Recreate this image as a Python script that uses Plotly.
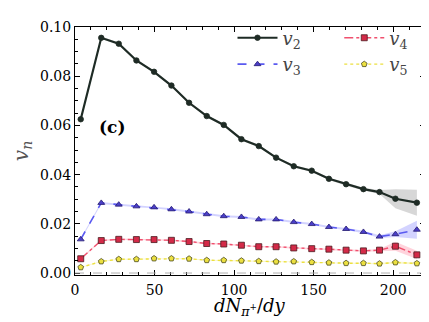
import plotly.graph_objects as go

# dN/dy bins
x = [3.6, 16.5, 27.5, 38.6, 49.7, 60.6, 71.7, 82.8, 93.5, 104.6,
     115.5, 126.4, 137.5, 148.8, 159.6, 170.4, 181.3, 191.4, 201.4, 214.9]

v2 = [0.0625, 0.0956, 0.0932, 0.0864, 0.0818, 0.0762, 0.0692, 0.0638, 0.0602, 0.0544,
      0.0516, 0.0469, 0.0434, 0.0416, 0.0383, 0.0361, 0.0341, 0.0329, 0.0302, 0.0286]
v3 = [0.0137, 0.0285, 0.0278, 0.0271, 0.0267, 0.0259, 0.0250, 0.0239, 0.0231, 0.0228,
      0.0218, 0.0218, 0.0207, 0.0199, 0.0187, 0.0179, 0.0167, 0.0148, 0.0158, 0.0176]
v4 = [0.0058, 0.0132, 0.0137, 0.0136, 0.0136, 0.0133, 0.0128, 0.0120, 0.0118, 0.0113,
      0.0107, 0.0107, 0.0102, 0.0099, 0.0097, 0.0093, 0.0090, 0.0093, 0.0109, 0.0074]
v5 = [0.0023, 0.0047, 0.0056, 0.0056, 0.0059, 0.0059, 0.0058, 0.0052, 0.0052, 0.0050,
      0.0048, 0.0046, 0.0047, 0.0044, 0.0042, 0.0040, 0.0040, 0.0038, 0.0043, 0.0039]

# statistical uncertainty (half width of shaded band)
e2 = [0.0005, 0.0005, 0.0005, 0.0005, 0.0005, 0.0005, 0.0005, 0.0005, 0.0005, 0.0005,
      0.0005, 0.0005, 0.0005, 0.0005, 0.0005, 0.0006, 0.0006, 0.0008, 0.0039, 0.0053]
e3 = [0.0004, 0.0004, 0.0004, 0.0004, 0.0004, 0.0004, 0.0004, 0.0004, 0.0004, 0.0004,
      0.0004, 0.0004, 0.0004, 0.0004, 0.0004, 0.0004, 0.0005, 0.0006, 0.0012, 0.0037]
e4 = [0.0003, 0.0003, 0.0003, 0.0003, 0.0003, 0.0003, 0.0003, 0.0003, 0.0003, 0.0003,
      0.0003, 0.0003, 0.0003, 0.0003, 0.0003, 0.0003, 0.0004, 0.0005, 0.0018, 0.0017]
e5 = [0.0002, 0.0002, 0.0002, 0.0002, 0.0002, 0.0002, 0.0002, 0.0002, 0.0002, 0.0002,
      0.0002, 0.0002, 0.0002, 0.0002, 0.0002, 0.0002, 0.0002, 0.0003, 0.0004, 0.0004]

SERIF = "DejaVu Serif"

series = [
    # name, y, err, line color, dash, width, symbol, marker fill, marker edge, band, legend, rank
    ("<i>v</i><sub>2</sub>", v2, e2, "#1e2b25", "solid", 2.2, "circle", "#1e2b25", "#1e2b25",
     "rgba(140,140,140,0.35)", "legend", 1),
    ("<i>v</i><sub>3</sub>", v3, e3, "#5a5af0", "dash", 1.6, "triangle-up", "#4b3fc8", "#241a70",
     "rgba(110,110,255,0.30)", "legend", 2),
    ("<i>v</i><sub>4</sub>", v4, e4, "#f0506e", "dashdot", 1.4, "square", "#d42a48", "#4a1a20",
     "rgba(255,110,140,0.30)", "legend2", 1),
    ("<i>v</i><sub>5</sub>", v5, e5, "#ece040", "dot", 1.4, "pentagon", "#ece040", "#4a4a20",
     "rgba(240,230,90,0.30)", "legend2", 2),
]

fig = go.Figure()

for name, y, err, lc, dash, lw, sym, mfill, medge, band, leg, rank in series:
    upper = [a + b for a, b in zip(y, err)]
    lower = [a - b for a, b in zip(y, err)]
    fig.add_trace(go.Scatter(
        x=x + x[::-1], y=upper + lower[::-1],
        fill="toself", fillcolor=band, line=dict(width=0),
        mode="lines", showlegend=False, hoverinfo="skip",
    ))
    fig.add_trace(go.Scatter(
        x=x, y=y, mode="lines+markers", name=name,
        line=dict(color=lc, width=lw, dash=dash),
        marker=dict(symbol=sym, size=6 if sym != "circle" else 5.5,
                    color=mfill, line=dict(color=medge, width=0.8)),
        legend=leg, legendrank=rank,
    ))

fig.add_hline(y=0, line=dict(color="#b0b0b0", width=1, dash="dash"))

fig.add_annotation(x=23, y=0.0595, text="<b>(c)</b>", showarrow=False,
                   font=dict(family=SERIF, size=17, color="black"))

# x-axis title placed as annotation for tighter control
fig.add_annotation(xref="paper", yref="paper", x=0.5, y=-0.13, yanchor="middle",
                   text="<i>dN</i><sub><i>π</i><sup>+</sup></sub>/<i>dy</i>",
                   showarrow=False, font=dict(family=SERIF, size=18, color="black"))

axis_common = dict(
    showline=True, linecolor="black", linewidth=1, mirror="allticks",
    ticks="inside", ticklen=5, tickcolor="black", showgrid=False, zeroline=False,
    tickfont=dict(family=SERIF, size=14, color="black"),
)

fig.update_xaxes(
    range=[0, 220], tickvals=[0, 50, 100, 150, 200], ticklabelstandoff=2,
    minor=dict(dtick=10, tick0=0, ticks="inside", ticklen=3, tickcolor="black", showgrid=False),
    **axis_common,
)
fig.update_yaxes(
    range=[-0.0008, 0.1], tickvals=[0.0, 0.02, 0.04, 0.06, 0.08, 0.10],
    ticktext=["0.00", "0.02", "0.04", "0.06", "0.08", "0.10"],
    minor=dict(dtick=0.005, tick0=0, ticks="inside", ticklen=3, tickcolor="black", showgrid=False),
    title=dict(text="<i>v</i><sub><i>n</i></sub>",
               font=dict(family=SERIF, size=20, color="#555"), standoff=6),
    **axis_common,
)

legend_style = dict(
    bgcolor="rgba(0,0,0,0)", borderwidth=0, itemwidth=40,
    font=dict(family=SERIF, size=18, color="#444"),
    xanchor="left", yanchor="top", tracegroupgap=0,
)

fig.update_layout(
    width=429, height=322,
    margin=dict(l=67, r=12, t=17, b=55),
    plot_bgcolor="white", paper_bgcolor="white",
    font=dict(family=SERIF),
    legend=dict(x=0.45, y=1.03, **legend_style),
    legend2=dict(x=0.755, y=1.03, **legend_style),
)

fig.write_html("out.html")
